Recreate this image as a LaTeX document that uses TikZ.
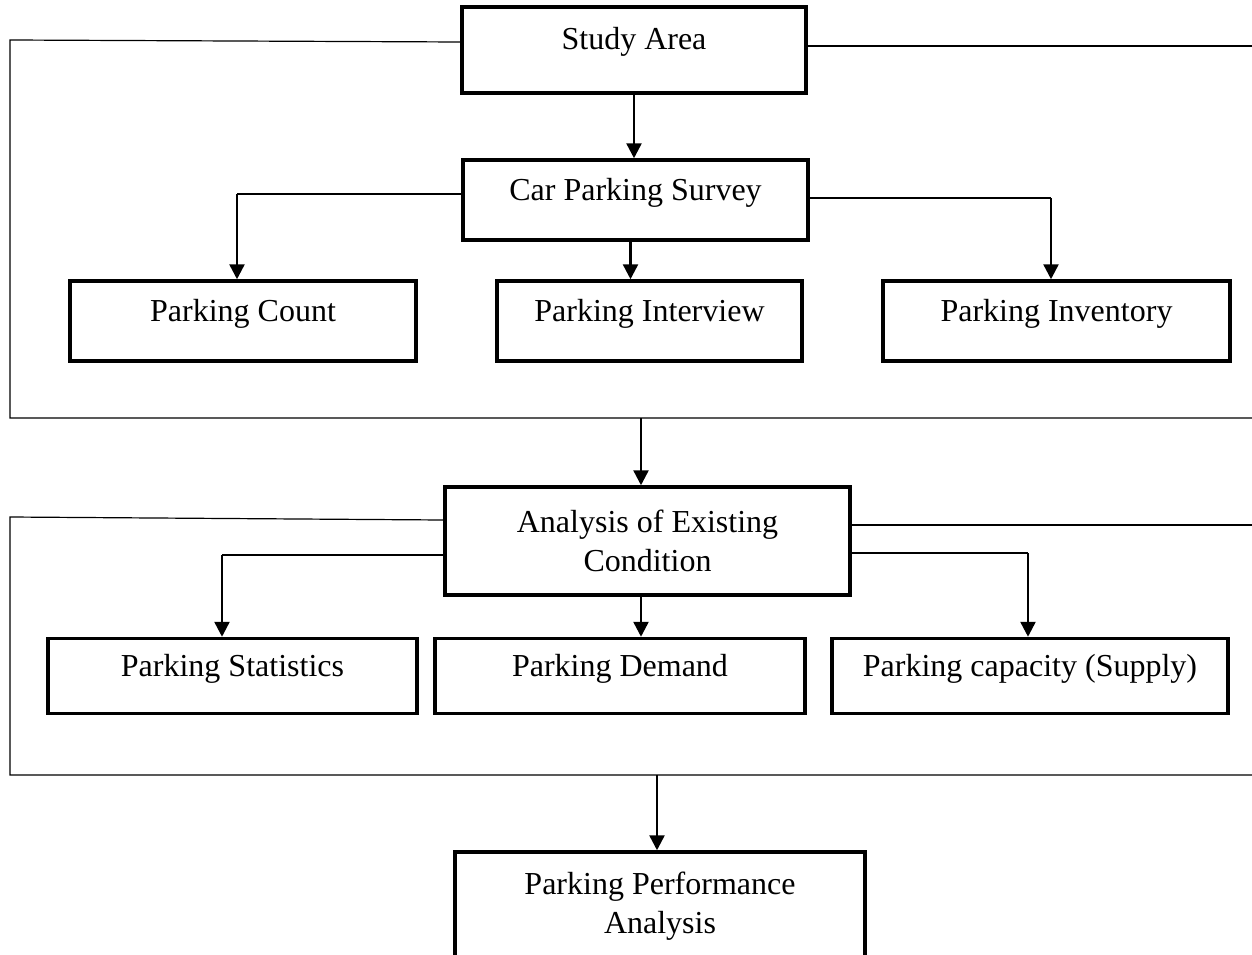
\documentclass[tikz,border=0pt]{standalone}
\usepackage{fontspec}
\setmainfont{Liberation Serif}
\usetikzlibrary{arrows.meta}
\begin{document}
\begin{tikzpicture}[x=1pt,y=-1pt,
  box/.style={draw,line width=3.5pt,align=center,inner sep=0pt,
    font=\fontsize{32}{39}\selectfont},
  onel/.style={text height=11pt,text depth=11pt},
  arr/.style={line width=2.5pt,-{Triangle[width=15pt,length=15pt]}},
  conn/.style={line width=1.3pt},
  frame/.style={line width=1.2pt}]
\useasboundingbox (0,0) rectangle (1252,955);
\node[box,onel,minimum width=344pt,minimum height=86pt] (sa) at (634,50) {Study Area};
\node[box,onel,minimum width=345pt,minimum height=80pt] (cps) at (635.5,200) {Car Parking Survey};
\node[box,onel,minimum width=346pt,minimum height=80pt] (pc) at (243,321) {Parking Count};
\node[box,onel,minimum width=305pt,minimum height=80pt] (pint) at (649.5,321) {Parking Interview};
\node[box,onel,minimum width=347pt,minimum height=80pt] (pinv) at (1056.5,321) {Parking Inventory};
\node[box,minimum width=405pt,minimum height=108pt] (an) at (647.5,541) {Analysis of Existing\\Condition};
\node[box,onel,minimum width=369pt,minimum height=75pt] (ps) at (232.5,676) {Parking Statistics};
\node[box,onel,minimum width=370pt,minimum height=75pt] (pd) at (620,676) {Parking Demand};
\node[box,onel,minimum width=396pt,minimum height=75pt] (pcap) at (1030,676) {Parking capacity (Supply)};
\node[box,minimum width=410pt,minimum height=108pt] (ppa) at (660,906) {Parking Performance\\Analysis};
\coordinate (f1l) at (10,40);
\coordinate (f1r) at (1252,46);
\coordinate (f1bl) at (10,418);
\coordinate (f1br) at (1252,418);
\coordinate (f1b) at (641,418);
\coordinate (f2l) at (10,517);
\coordinate (f2r) at (1252,525);
\coordinate (f2bl) at (10,775);
\coordinate (f2br) at (1252,775);
\coordinate (f2b) at (657,775);
\coordinate (c1) at (237,194);
\coordinate (c2) at (1051,198);
\coordinate (c3) at (222,555);
\coordinate (c4) at (1028,553);
\draw[frame] ([yshift=8pt]sa.west) -- (f1l) -- (f1bl) -- (f1br);
\draw[frame] ([yshift=4pt]sa.east) -- (f1r);
\draw[arr] (sa.south) -- (sa.south |- cps.north);
\draw[conn] (cps.west |- c1) -- (c1);
\draw[arr] (c1) -- (c1 |- pc.north);
\draw[conn] (cps.east |- c2) -- (c2);
\draw[arr] (c2) -- (c2 |- pinv.north);
\draw[arr] ([xshift=-5pt]cps.south) -- ([xshift=-5pt]cps.south |- pint.north);
\draw[arr] (f1b) -- (f1b |- an.north);
\draw[frame] ([yshift=21pt]an.west) -- (f2l) -- (f2bl) -- (f2br);
\draw[frame] ([yshift=16pt]an.east) -- (f2r);
\draw[conn] (an.west |- c3) -- (c3);
\draw[arr] (c3) -- (c3 |- ps.north);
\draw[conn] (an.east |- c4) -- (c4);
\draw[arr] (c4) -- (c4 |- pcap.north);
\draw[arr] ([xshift=-6.5pt]an.south) -- ([xshift=-6.5pt]an.south |- pd.north);
\draw[arr] (f2b) -- (f2b |- ppa.north);
\end{tikzpicture}
\end{document}
